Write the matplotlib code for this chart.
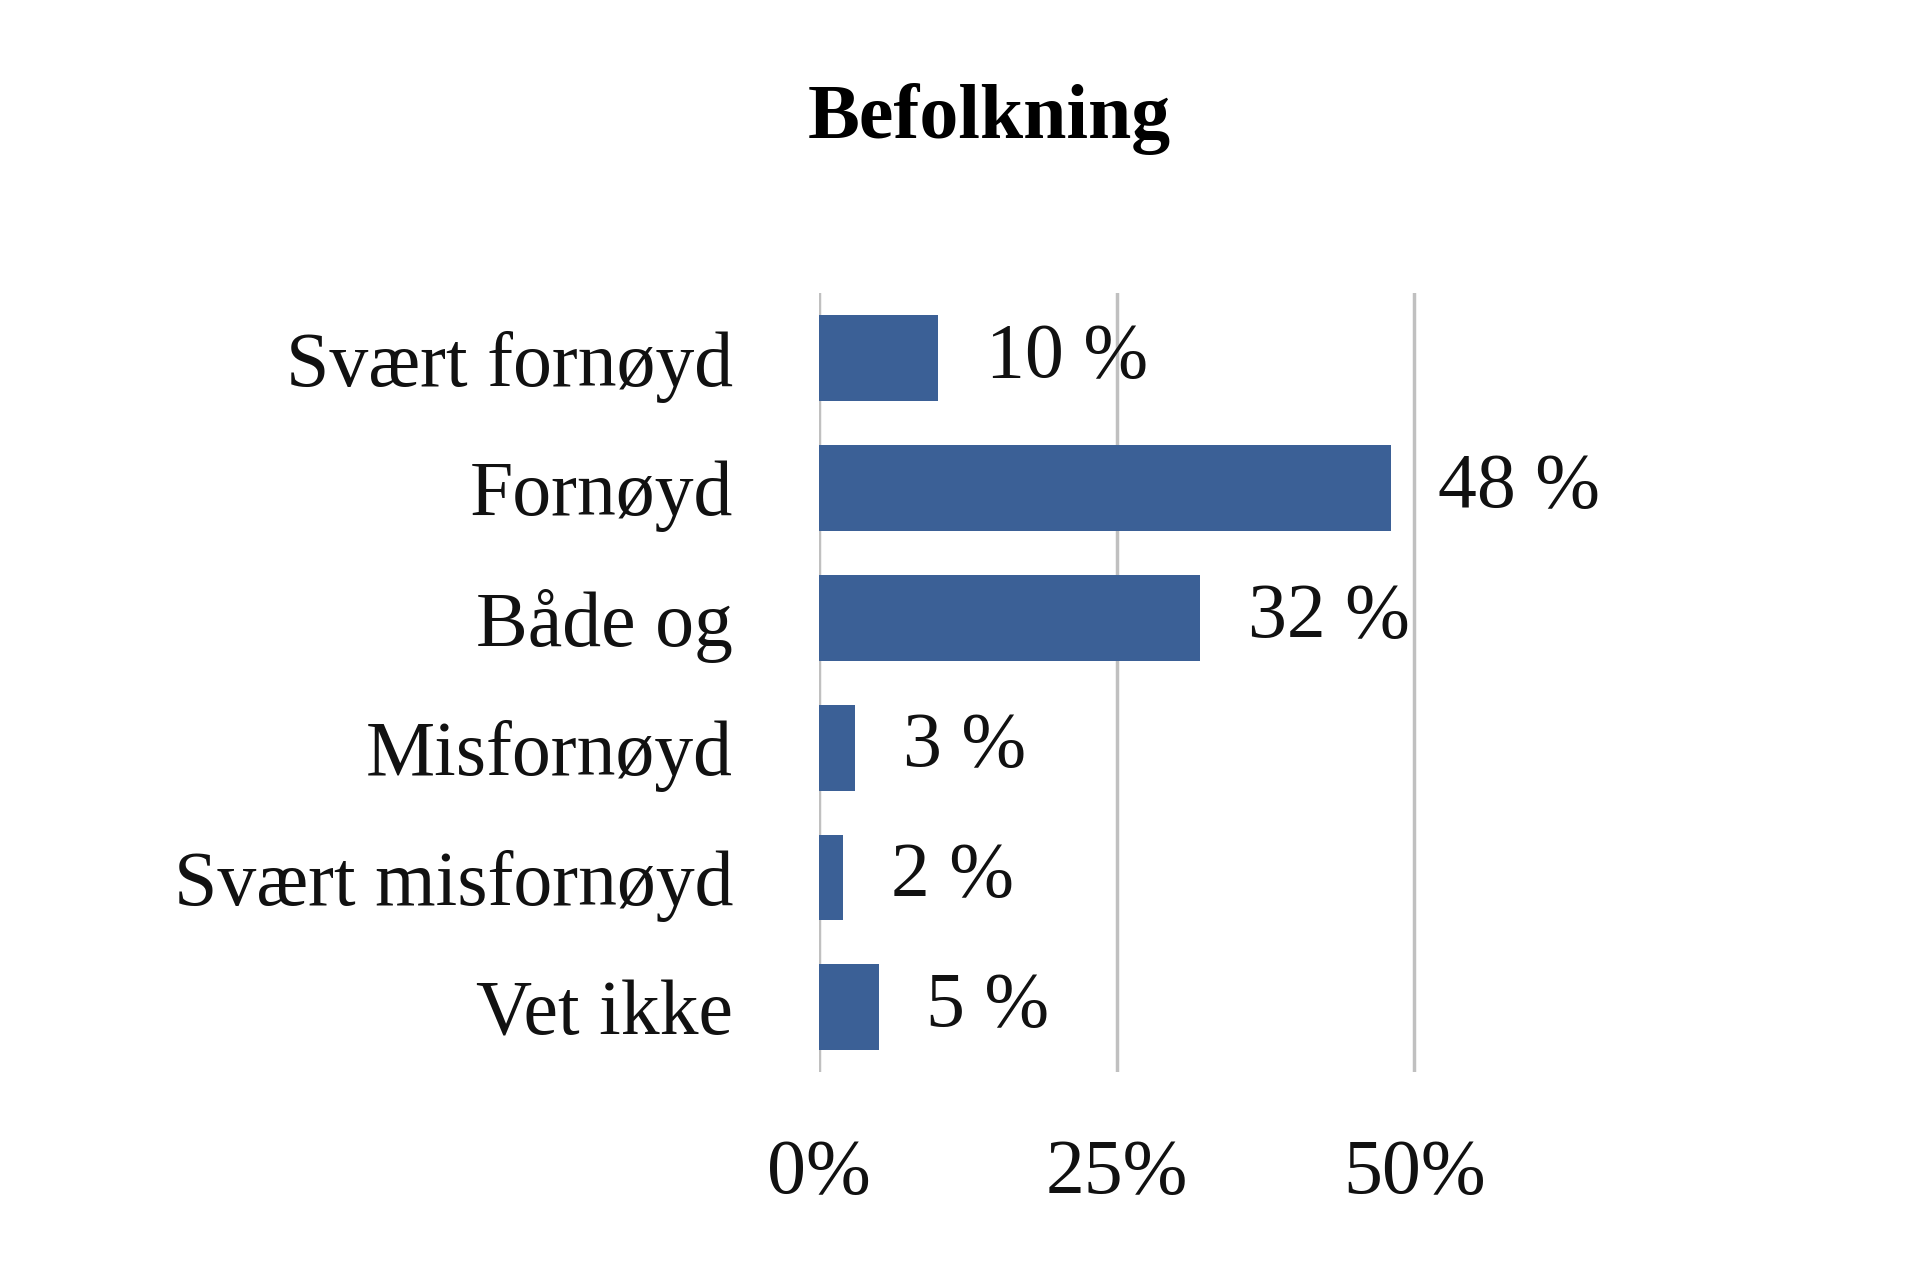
import matplotlib.pyplot as plt

categories = ['Svært fornøyd', 'Fornøyd', 'Både og', 'Misfornøyd', 'Svært misfornøyd', 'Vet ikke']
values = [10, 48, 32, 3, 2, 5]
xticks = [0, 25, 50]
xticklabels = ['0%', '25%', '50%']

plt.rcParams['font.family'] = 'Liberation Serif'

fig = plt.figure(figsize=(19.2, 12.81), dpi=100)
ax = fig.add_axes([0.4267, 0.163, 0.372, 0.608])

ypos = list(range(len(categories)))
ax.barh(ypos, values, height=0.66, color='#3b6096', zorder=3)
for y, v in zip(ypos, values):
    ax.text(v + 4, y, f'{v} %', va='center', ha='left', fontsize=56, color='#111111')

ax.set_xlim(0, 60)
ax.set_ylim(len(categories) - 0.5, -0.5)
ax.set_yticks(ypos)
ax.set_yticklabels(categories, fontsize=56, color='#111111')
ax.set_xticks(xticks)
ax.set_xticklabels(xticklabels, fontsize=56, color='#111111')
ax.tick_params(length=0)
ax.tick_params(axis='y', pad=62)
ax.tick_params(axis='x', pad=48)
ax.grid(axis='x', color='#c0c0c0', linewidth=2.5, zorder=0)
for s in ax.spines.values():
    s.set_visible(False)

fig.text(0.515, 0.907, 'Befolkning', ha='center', va='center', fontsize=56, fontweight='bold')

fig.savefig('out.png', dpi=100, facecolor='white')
